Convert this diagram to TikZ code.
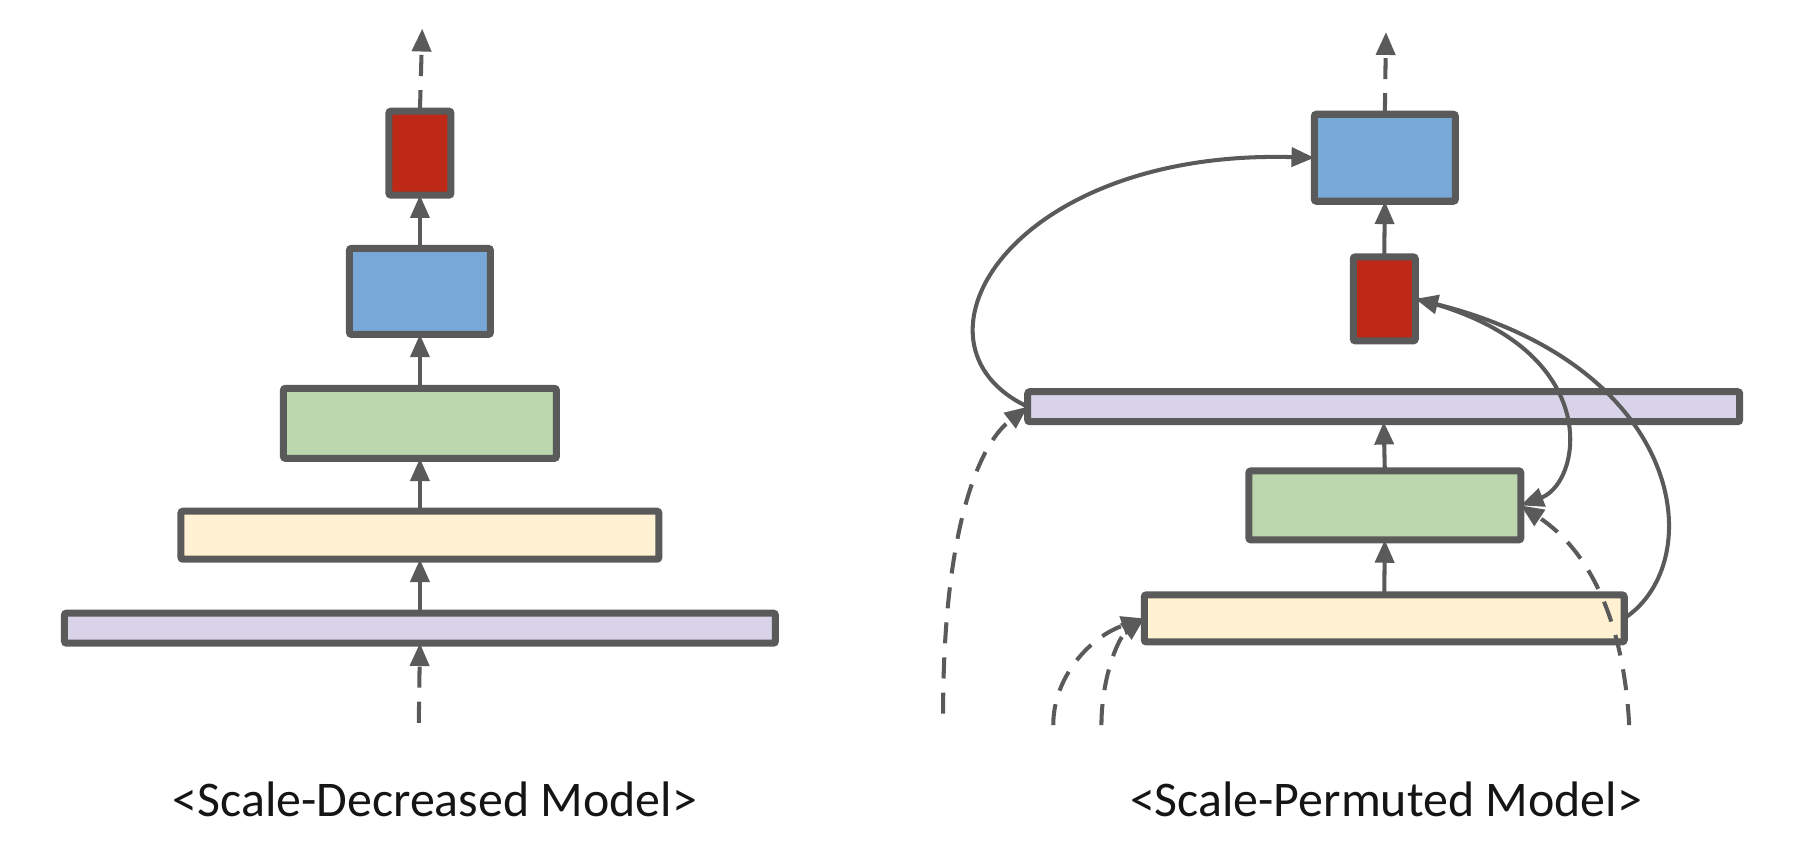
\documentclass[tikz,border=0pt]{standalone}
\usepackage{fontspec}
\setmainfont{Carlito}
\usetikzlibrary{arrows.meta}
\definecolor{edge}{HTML}{5A5A5A}
\definecolor{cred}{HTML}{BE2816}
\definecolor{cblue}{HTML}{77A8D7}
\definecolor{cgreen}{HTML}{BCD6AD}
\definecolor{cyellow}{HTML}{FFF1D1}
\definecolor{cpurple}{HTML}{D8D3E8}
\definecolor{txt}{HTML}{151515}
\tikzset{
  blk/.style={draw=edge, line width=2pt, inner sep=0pt, outer sep=0pt, rounded corners=0.6pt},
  conn/.style={draw=edge, line width=1.15pt, -{Triangle[width=5.4pt,length=6.5pt]}},
  dconn/.style={conn, dash pattern=on 6pt off 4pt},
  lbl/.style={font=\fontsize{14.2}{17}\selectfont, text=txt, inner sep=0pt}
}
\begin{document}
\begin{tikzpicture}[x=0.011473cm, y=-0.011473cm]
\useasboundingbox (0,0) rectangle (1568,737.4);
% ---------- left: scale-decreased ----------
\node[blk, fill=cred,    minimum width=0.62cm, minimum height=0.84cm] (lr) at (366,133.5) {};
\node[blk, fill=cblue,   minimum width=1.41cm, minimum height=0.86cm] (lb) at (366,254) {};
\node[blk, fill=cgreen,  minimum width=2.73cm, minimum height=0.70cm] (lg) at (366,369) {};
\node[blk, fill=cyellow, minimum width=4.78cm, minimum height=0.48cm] (ly) at (366,466.5) {};
\node[blk, fill=cpurple, minimum width=7.11cm, minimum height=0.30cm] (lp) at (366,547.5) {};
\coordinate (ltop) at (368,25);
\coordinate (lbot) at (365,630);
\draw[dconn] (lr.north) -- (ltop);
\draw[conn] (lb.north) -- (lr.south);
\draw[conn] (lg.north) -- (lb.south);
\draw[conn] (ly.north) -- (lg.south);
\draw[conn] (lp.north) -- (ly.south);
\draw[dconn] (lbot) -- (lp.south);
\node[lbl] (ltxt) at (379,697) {<Scale-Decreased Model>};
% ---------- right: scale-permuted ----------
\node[blk, fill=cblue,   minimum width=1.41cm, minimum height=0.87cm] (rb) at (1207,137.5) {};
\node[blk, fill=cred,    minimum width=0.62cm, minimum height=0.84cm] (rr) at (1206.5,260.5) {};
\node[blk, fill=cpurple, minimum width=7.12cm, minimum height=0.30cm] (rp) at (1206,354.5) {};
\node[blk, fill=cgreen,  minimum width=2.72cm, minimum height=0.69cm] (rg) at (1207,440.5) {};
\node[blk, fill=cyellow, minimum width=4.80cm, minimum height=0.47cm] (ry) at (1206.5,539) {};
\coordinate (rtop) at (1208,28);
\draw[dconn] (rb.north) -- (rtop);
\draw[conn] (rr.north) -- (rb.south);
\draw[conn] (rg.north) -- (rp.south);
\draw[conn] (ry.north) -- (rg.south);
% purple -> blue
\draw[conn] (rp.west) .. controls (780,300) and (880,130) .. (rb.west);
% red -> green
\draw[conn] (rr.east) .. controls (1400,300) and (1380,420) .. (rg.east);
% yellow -> red
\draw[conn] (ry.east) .. controls (1490,490) and (1470,320) .. (rr.east);
% dashed inputs
\coordinate (in1) at (822,622);
\coordinate (in2) at (918,632);
\coordinate (in3) at (960,632);
\coordinate (in4) at (1420,632);
\draw[dconn] (in1) .. controls (822,470) and (850,390) .. (rp.west);
\draw[dconn] (in2) .. controls (918,590) and (950,555) .. (ry.west);
\draw[dconn] (in3) .. controls (960,590) and (975,555) .. (ry.west);
\draw[dconn] (in4) .. controls (1415,540) and (1385,480) .. (rg.east);
\node[lbl] (rtxt) at (1208,697) {<Scale-Permuted Model>};
\end{tikzpicture}
\end{document}
